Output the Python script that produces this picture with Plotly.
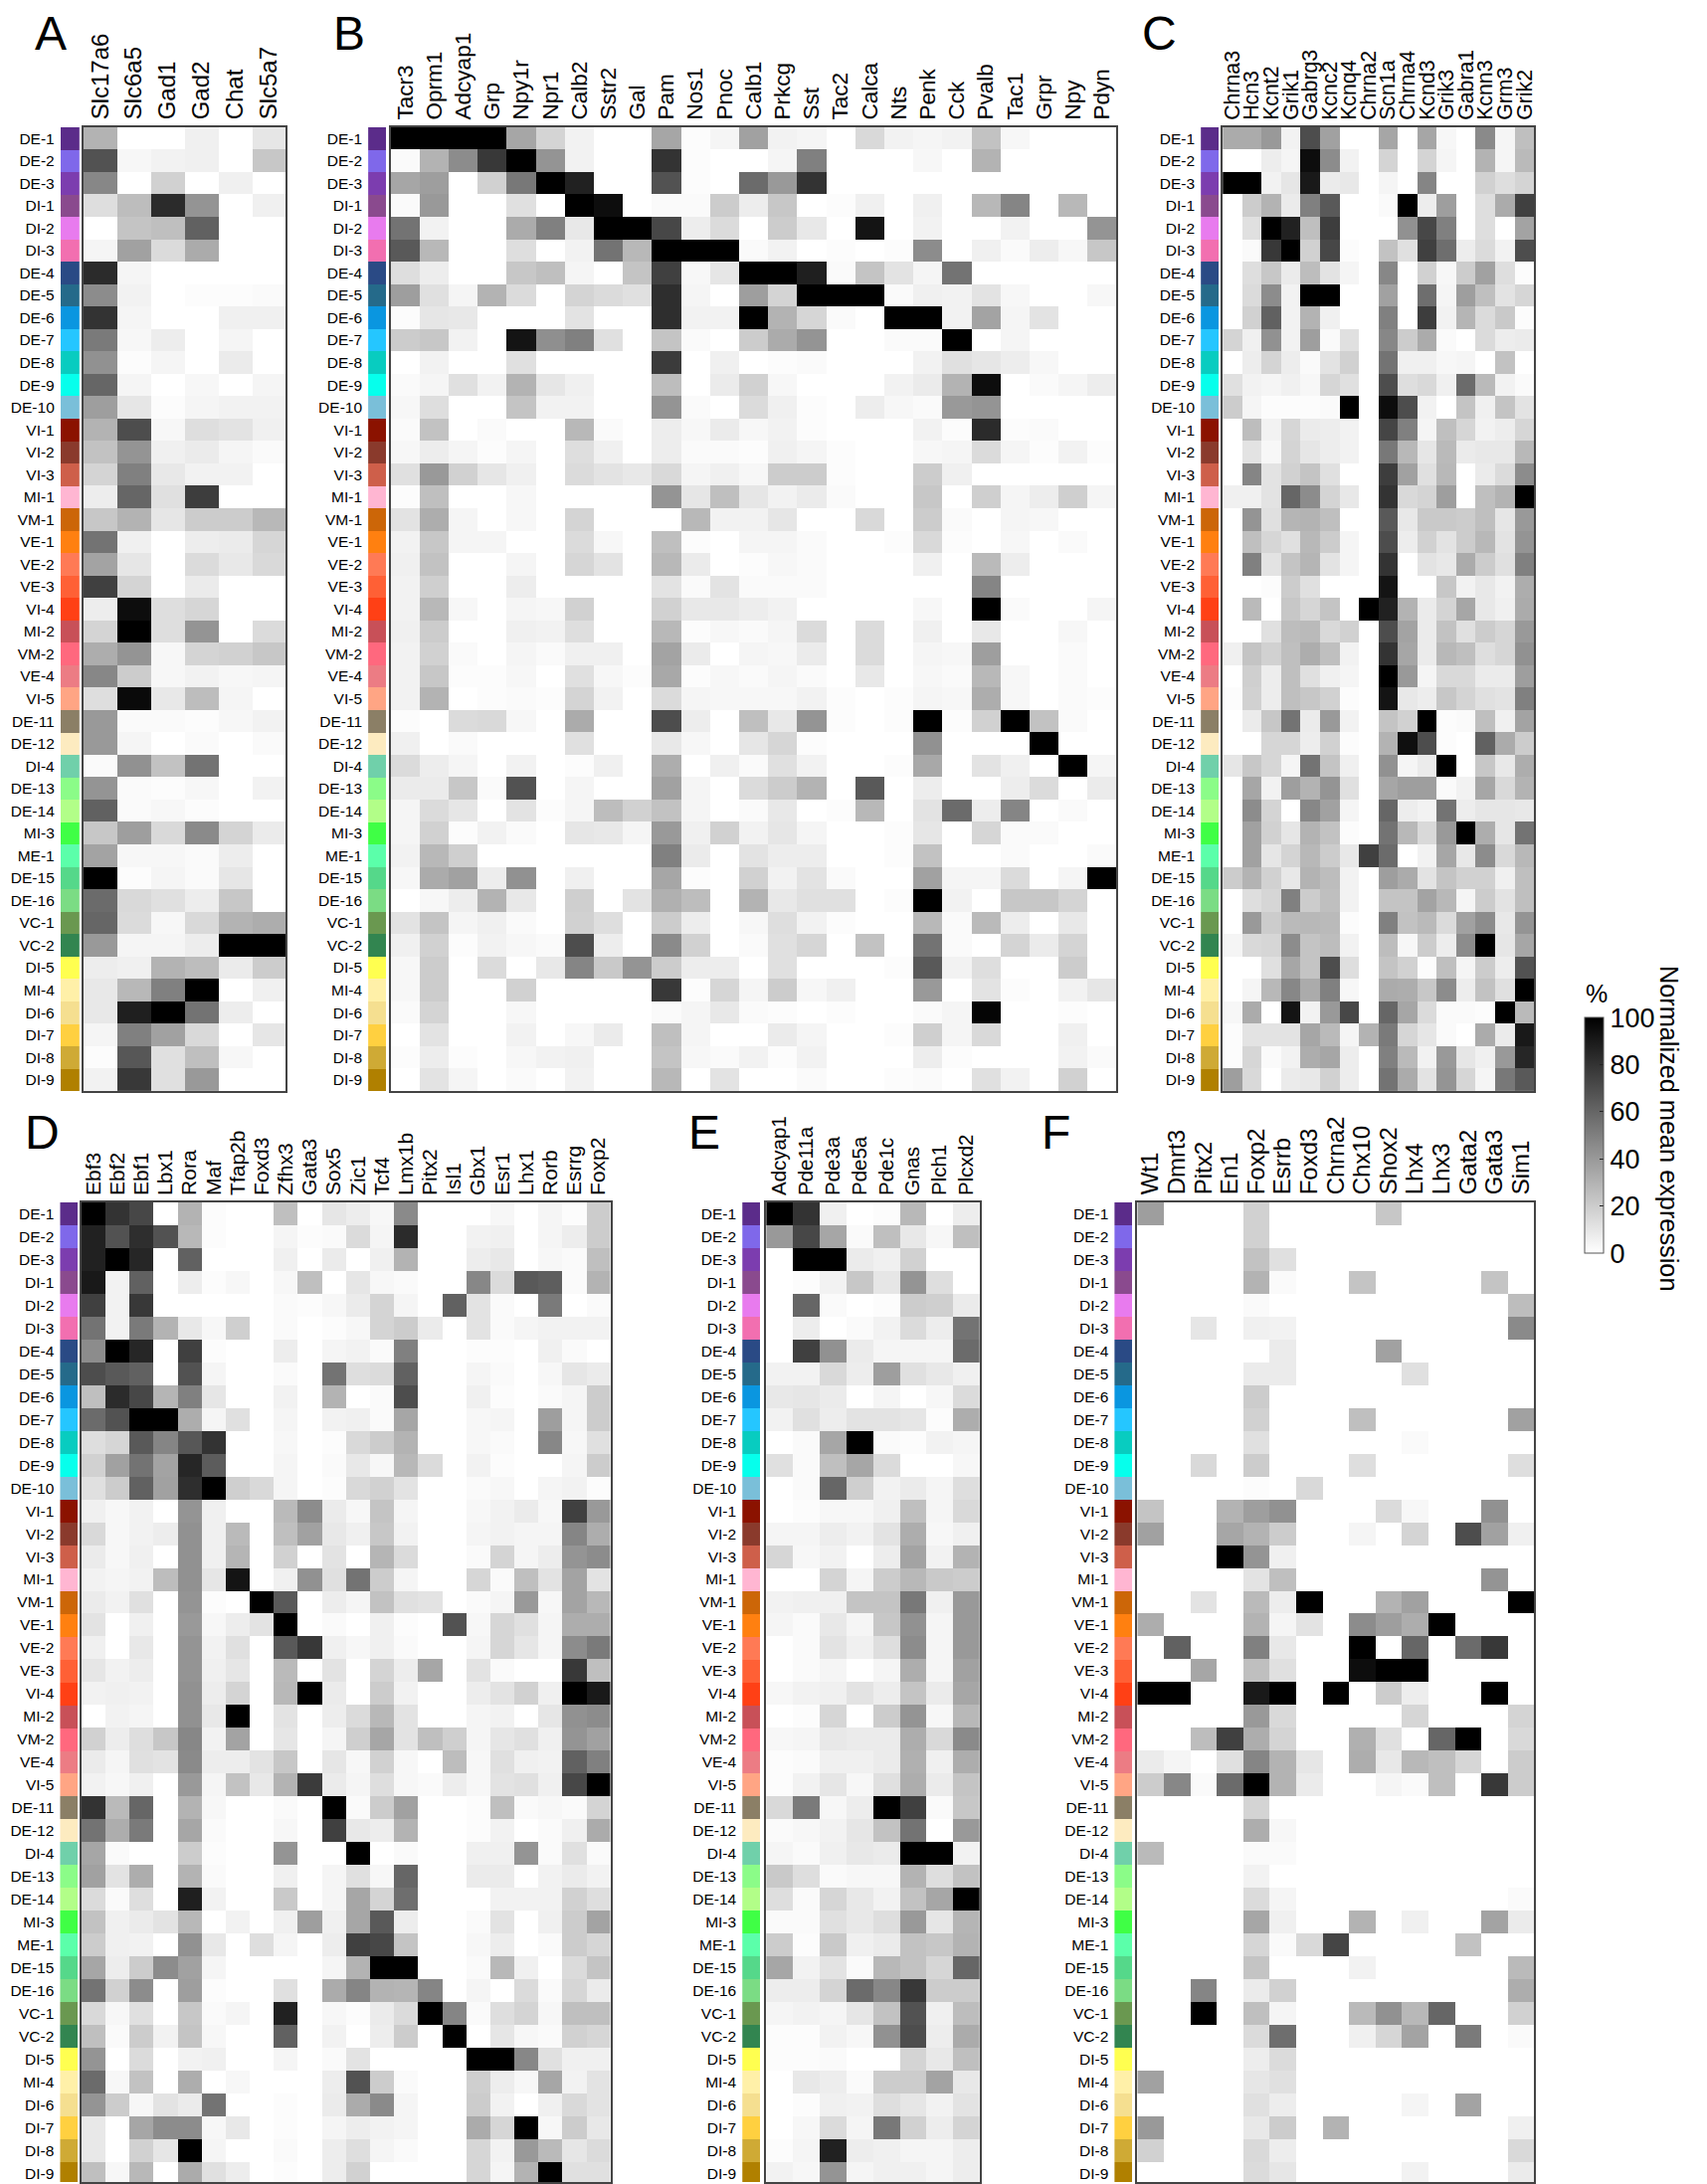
import plotly.graph_objects as go

W, H = 1716, 2196

clusters = ["DE-1","DE-2","DE-3","DI-1","DI-2","DI-3","DE-4","DE-5","DE-6","DE-7","DE-8","DE-9","DE-10",
            "VI-1","VI-2","VI-3","MI-1","VM-1","VE-1","VE-2","VE-3","VI-4","MI-2","VM-2","VE-4","VI-5",
            "DE-11","DE-12","DI-4","DE-13","DE-14","MI-3","ME-1","DE-15","DE-16","VC-1","VC-2",
            "DI-5","MI-4","DI-6","DI-7","DI-8","DI-9"]
cluster_colors = ["#5B2C8A","#7F68EA","#7C3DAF","#8A4A8E","#E87BEE","#F26FB0","#2A4A85","#256A8A","#0A96E0","#25C6FF","#08CCC0","#06FFEC","#7ABFD9",
                  "#8B1200","#8A3A2C","#CE5F4A","#FFB6D2","#CC6608","#FF8010","#FF7A55","#FF6035","#FF4015","#C85058","#FF687E","#EC7C84","#FFA584",
                  "#8B7F66","#FDEBC0","#70D0AA","#8BFC88","#B2FE88","#3FFF45","#5BFFAA","#55D88A","#7BDC84","#6A9850","#328550",
                  "#FFFF50","#FFF0A8","#F5DF90","#FFD040","#CFAA35","#B08000"]

genes_a = ["Slc17a6","Slc6a5","Gad1","Gad2","Chat","Slc5a7"]
values_a = [
[30,0,0,6,0,10],[68,3,5,6,0,22],[47,0,18,0,6,0],[13,26,83,42,0,6],[0,23,25,62,0,0],[4,37,14,33,0,0],
[83,4,0,0,0,0],[45,5,0,1,1,2],[80,4,0,0,6,6],[52,3,7,0,4,0],[43,1,4,0,8,0],[60,4,0,3,0,4],[38,10,1,4,5,5],
[30,70,3,13,11,6],[24,42,6,8,4,2],[17,50,9,5,5,0],[7,60,12,76,0,0],[22,30,10,20,20,28],[55,6,0,7,8,16],
[36,10,0,14,9,15],[75,17,0,8,0,0],[7,95,13,16,0,0],[17,100,13,42,0,14],[32,42,3,17,18,22],[47,20,3,5,3,4],
[13,96,9,26,4,0],[40,2,2,1,3,5],[40,4,0,2,0,2],[2,43,24,55,0,0],[42,2,1,3,0,5],[62,2,3,1,0,0],[22,38,15,46,17,8],
[36,3,3,2,7,0],[100,1,4,2,10,0],[58,15,12,7,22,0],[60,14,3,15,30,32],[40,4,4,7,100,100],[7,6,30,26,8,20],
[9,28,50,100,0,6],[9,88,100,55,7,0],[4,50,37,15,0,10],[1,66,12,25,3,0],[5,78,12,40,0,0]]

genes_b = ["Tacr3","Oprm1","Adcyap1","Grp","Npy1r","Npr1","Calb2","Sstr2","Gal","Pam","Nos1","Pnoc","Calb1","Prkcg","Sst","Tac2","Calca","Nts","Penk","Cck","Pvalb","Tac1","Grpr","Npy","Pdyn"]
values_b = [
[100,100,100,100,35,17,5,0,0,35,1,4,37,5,4,0,15,5,4,5,24,3,0,0,0],
[2,30,45,78,100,42,5,0,0,80,1,0,0,4,50,0,0,0,3,0,30,0,0,0,0],
[35,38,0,18,53,100,87,0,0,68,1,0,58,40,80,0,0,0,0,0,0,0,0,0,0],
[2,40,0,0,12,0,100,95,0,2,2,20,7,22,0,1,6,0,6,0,28,48,0,28,0],
[55,5,0,0,33,50,9,100,100,72,7,14,0,20,9,0,92,0,5,0,0,5,0,0,42],
[65,28,0,0,13,0,5,55,28,100,100,100,2,5,0,1,0,1,45,0,6,2,7,3,22],
[13,7,0,0,22,25,4,0,23,75,3,10,100,100,88,2,23,11,4,55,0,0,0,0,0],
[38,12,4,30,14,0,17,14,12,82,4,0,38,17,100,100,100,2,6,5,11,3,0,0,3],
[1,10,9,0,0,0,11,0,0,82,5,5,100,30,16,2,0,100,100,5,36,4,11,0,0],
[20,22,5,0,92,44,50,12,0,23,2,0,20,33,42,0,0,2,2,100,0,4,0,0,0],
[0,5,0,0,12,0,0,0,0,77,0,6,0,1,2,0,0,0,5,12,10,7,3,0,0],
[2,4,12,5,30,10,6,0,0,26,0,8,18,3,0,0,0,5,8,30,95,0,2,4,7],
[3,13,0,0,23,5,5,0,0,42,2,0,14,6,1,0,7,3,2,40,42,0,0,0,0],
[2,24,0,2,0,0,28,2,0,7,3,8,3,5,1,0,0,0,5,1,83,1,2,0,0],
[3,7,4,1,4,0,13,6,0,7,2,2,1,6,4,1,0,0,3,4,14,4,1,5,1],
[12,40,18,10,6,0,14,11,9,15,4,6,3,20,20,1,0,0,20,6,0,0,0,0,0],
[1,25,0,0,3,0,0,0,0,42,10,25,10,5,8,2,0,0,22,0,19,4,7,19,4],
[11,32,4,0,3,0,17,0,0,0,28,5,5,10,0,0,15,0,20,2,0,4,3,0,0],
[5,22,4,4,0,0,14,3,0,25,1,0,4,4,2,0,0,1,15,1,0,3,0,2,0],
[6,24,0,0,4,0,16,11,0,28,8,0,1,3,2,0,0,0,6,0,27,7,0,0,0],
[5,19,0,0,7,0,0,0,0,11,2,11,2,2,2,0,0,0,0,0,48,0,0,0,0],
[5,28,3,0,4,3,18,0,0,18,9,9,7,5,0,0,0,0,3,0,100,2,0,0,4],
[6,20,0,0,6,5,13,0,0,28,1,3,2,4,14,0,14,0,6,0,9,0,0,3,0],
[5,18,2,0,4,2,6,6,0,36,8,0,4,3,8,0,14,0,4,3,38,0,0,2,0],
[5,22,1,1,3,0,12,3,1,34,1,3,2,4,2,0,9,0,3,2,28,3,0,2,0],
[5,30,0,1,2,1,17,5,0,14,4,3,3,3,5,1,0,1,4,3,32,3,0,2,1],
[1,0,14,15,3,0,33,0,0,70,7,0,25,9,42,1,0,1,100,1,18,100,24,2,0],
[6,0,2,0,0,0,12,0,0,9,3,0,10,16,1,0,0,0,43,0,0,0,100,0,0],
[14,7,4,0,5,0,1,6,0,32,0,6,2,12,5,0,0,1,34,0,11,6,0,100,4],
[8,8,22,2,68,0,4,0,0,37,4,0,14,20,30,0,65,0,7,0,0,7,14,0,8],
[4,14,10,0,11,1,4,26,18,24,4,0,2,9,0,1,28,0,11,58,7,48,0,2,0],
[4,18,1,5,2,0,10,9,4,40,6,18,5,10,4,0,0,1,10,0,16,2,2,0,0],
[5,28,19,0,0,0,0,0,0,50,8,0,11,7,7,0,0,1,24,0,0,2,0,0,2],
[3,33,37,7,43,0,6,0,0,35,1,0,18,5,11,2,0,0,37,4,4,14,0,4,100],
[0,3,7,30,9,0,19,0,11,31,26,0,30,9,12,12,0,1,100,5,0,22,22,17,0],
[11,23,4,6,2,0,18,13,0,20,7,0,3,13,5,1,0,0,28,2,27,7,0,9,0],
[6,18,1,5,3,2,70,7,0,46,18,0,2,12,16,0,24,0,55,2,0,17,8,17,0],
[3,20,0,14,0,9,48,21,42,20,7,7,0,12,0,0,0,1,65,5,13,0,0,20,0],
[3,20,0,0,18,0,0,0,0,78,1,16,4,20,3,6,0,0,40,0,11,1,0,5,10],
[2,17,0,0,3,0,0,0,0,2,4,9,2,1,0,1,0,0,2,4,98,0,0,1,0],
[0,11,0,0,5,0,3,8,0,25,4,0,0,8,4,0,0,1,19,4,15,0,0,6,0],
[1,7,1,0,3,5,6,0,0,23,3,2,5,1,5,0,0,0,7,1,0,0,0,5,2],
[0,11,4,0,2,0,5,0,0,28,0,11,0,0,2,0,0,1,2,0,12,5,0,18,0]]

genes_c = ["Chrna3","Hcn3","Kcnt2","Grik1","Gabrg3","Kcnc2","Kcnq4","Chrna2","Scn1a","Chrna4","Kcnd3","Grik3","Gabra1","Kcnn3","Grm3","Grik2"]
values_c = [
[33,33,40,5,70,37,0,0,35,0,35,3,0,46,4,25],[0,0,7,4,95,45,5,0,17,0,17,4,0,30,4,27],
[100,100,5,10,90,8,9,0,4,0,48,0,0,18,13,17],[0,20,30,8,50,65,0,0,2,100,7,38,0,13,33,75],
[0,12,100,87,25,76,0,0,0,43,72,50,0,13,0,36],[0,2,78,100,18,72,1,0,24,12,75,57,7,14,5,70],
[0,13,22,8,26,11,4,0,47,0,18,3,20,37,13,1],[0,14,45,5,100,100,0,0,37,0,57,4,38,25,11,16],
[0,18,62,5,30,6,0,0,50,0,76,5,29,14,21,1],[17,6,43,5,38,2,12,0,47,20,33,2,0,14,7,8],
[0,7,17,7,2,11,18,0,55,6,6,3,4,0,24,0],[12,5,4,6,3,16,12,0,70,13,15,6,58,27,5,2],
[20,4,1,1,1,2,100,0,95,70,5,0,23,6,23,11],[0,26,5,16,8,7,5,0,73,50,4,25,16,5,7,16],
[0,11,3,17,10,7,5,0,53,28,10,27,8,9,9,28],[0,48,11,18,23,12,0,0,76,37,12,28,0,8,14,45],
[6,6,11,60,45,17,9,0,80,15,17,38,0,25,30,100],[0,42,12,29,30,25,0,0,65,9,21,21,20,25,10,40],
[0,25,16,12,28,20,4,0,70,7,18,11,20,28,11,42],[0,50,11,23,29,11,4,0,80,0,11,9,33,20,12,50],
[0,0,1,20,12,0,0,0,92,0,0,22,5,9,5,32],[0,27,0,22,16,23,0,100,87,30,8,17,35,9,6,33],
[0,0,12,26,27,15,18,0,70,36,8,24,12,20,16,40],[6,23,18,25,32,25,5,0,80,35,8,28,25,13,16,43],
[0,19,7,25,12,6,4,0,100,40,4,15,15,8,8,38],[1,18,7,25,22,18,1,0,92,9,7,22,17,12,11,50],
[0,8,22,55,8,40,5,0,23,18,100,1,2,25,6,36],[0,0,16,16,7,18,1,0,30,94,70,1,0,62,33,20],
[10,22,16,4,55,23,6,0,43,4,8,100,0,22,9,32],[0,35,5,38,30,42,12,0,35,38,38,2,5,35,15,30],
[0,45,17,0,47,37,4,0,60,7,5,55,7,10,10,9],[0,37,18,10,30,24,1,0,55,28,15,40,100,32,10,55],
[0,37,10,17,28,20,9,75,58,0,5,35,9,45,15,28],[20,30,18,9,30,26,5,0,38,33,11,23,18,18,6,25],
[0,13,16,50,20,25,5,0,23,23,36,28,4,20,11,25],[0,40,20,27,28,27,1,0,50,24,27,14,37,45,9,42],
[4,15,16,45,23,26,5,0,26,3,20,7,45,100,10,35],[0,0,12,35,23,70,13,0,23,18,1,25,4,20,7,68],
[0,4,28,47,33,50,3,0,33,32,22,45,7,24,12,100],[3,33,0,92,5,40,72,0,60,35,14,2,2,1,100,27],
[1,11,11,11,35,27,4,30,52,16,10,2,0,33,8,90],[1,16,2,5,32,35,7,0,50,27,5,40,10,6,40,85],
[38,15,0,8,9,18,7,0,55,33,11,42,16,4,53,65]]

genes_d = ["Ebf3","Ebf2","Ebf1","Lbx1","Rora","Maf","Tfap2b","Foxd3","Zfhx3","Gata3","Sox5","Zic1","Tcf4","Lmx1b","Pitx2","Isl1","Gbx1","Esr1","Lhx1","Rorb","Esrrg","Foxp2"]
values_d = [
[100,80,72,0,30,1,0,0,25,0,10,7,3,46,0,0,0,3,0,4,1,20],
[87,68,82,68,28,1,0,0,4,1,2,14,4,83,0,0,5,6,0,4,7,20],
[87,100,85,0,62,0,0,0,6,0,8,0,6,30,0,0,7,9,0,3,2,25],
[90,5,62,0,7,1,3,0,3,25,0,10,3,2,0,0,47,14,65,63,2,30],
[75,5,78,0,0,0,0,0,2,1,3,8,17,4,0,62,11,2,0,52,0,2],
[55,5,52,30,9,3,19,0,2,0,1,3,17,20,8,0,11,2,4,5,5,5],
[45,100,85,0,75,1,0,0,7,0,4,5,2,50,0,0,1,1,0,6,2,0],
[70,65,62,0,68,4,0,0,2,0,55,13,14,62,0,0,4,2,0,3,10,8],
[25,83,72,29,50,10,0,0,5,0,30,0,2,70,0,0,6,1,0,2,4,20],
[58,68,100,100,32,4,12,0,4,0,5,6,2,35,0,0,3,4,0,38,4,20],
[13,16,65,48,66,80,0,0,3,0,1,15,20,30,0,0,3,2,0,47,3,12],
[18,37,55,36,85,64,0,0,4,0,2,9,3,28,14,0,5,1,0,0,4,20],
[12,20,62,37,82,100,19,15,4,0,1,15,18,11,0,0,2,3,0,4,5,1],
[6,3,5,0,42,6,0,0,27,45,8,3,23,4,0,0,3,5,8,3,75,40],
[15,3,5,7,43,6,27,0,25,37,9,6,22,5,0,0,4,5,4,4,48,32],
[8,3,6,0,43,6,29,0,18,0,11,0,29,14,0,0,2,17,4,7,42,45],
[5,4,5,26,43,10,92,0,6,43,12,55,20,4,0,0,16,2,25,11,36,11],
[8,5,12,0,42,1,0,100,65,0,7,4,24,12,11,0,2,4,40,3,36,28],
[11,0,6,0,40,3,7,11,100,0,2,0,6,1,0,68,3,16,12,4,32,32],
[6,0,9,0,42,5,12,0,65,78,6,3,6,2,0,0,4,16,10,4,45,52],
[10,5,7,0,42,6,10,0,27,0,11,0,17,7,35,0,11,2,0,0,78,25],
[5,6,5,0,43,7,17,0,28,100,8,0,20,5,0,0,7,11,18,6,100,90],
[0,5,4,0,43,9,100,0,11,0,7,14,28,11,0,0,4,5,0,10,43,45],
[18,7,13,22,47,5,36,0,10,0,4,19,35,11,25,19,4,10,12,6,42,37],
[8,4,12,11,46,7,7,11,22,0,10,3,18,3,0,26,3,12,6,5,62,50],
[5,3,6,0,40,4,24,9,30,77,8,4,13,3,2,7,3,11,12,6,72,100],
[80,27,60,0,30,3,0,0,2,0,100,2,20,37,0,0,1,25,2,3,2,17],
[55,32,52,0,35,2,0,0,3,0,75,9,7,30,0,0,1,5,0,2,6,33],
[35,2,0,0,20,1,0,0,42,0,0,100,0,2,0,0,6,6,42,2,12,2],
[37,11,32,0,30,2,0,0,6,0,4,12,3,60,0,0,8,8,0,5,8,5],
[14,2,13,0,88,5,0,0,21,0,4,35,17,57,0,0,0,5,5,5,18,13],
[24,6,8,11,28,0,5,0,6,38,6,35,65,7,0,0,2,11,0,6,20,36],
[20,6,5,0,43,9,0,13,4,0,7,75,72,23,0,0,3,7,0,2,20,16],
[35,7,20,45,37,4,0,0,0,0,4,30,100,100,0,0,2,28,6,0,14,23],
[55,18,45,0,38,1,0,0,12,0,33,48,30,29,48,0,4,0,14,2,16,8],
[15,3,12,0,22,2,4,0,87,0,3,1,8,14,100,48,2,13,17,3,25,25],
[25,2,20,5,23,3,0,0,62,0,5,0,7,20,0,100,0,10,3,2,18,16],
[42,0,14,0,5,6,0,0,4,0,2,11,0,0,0,0,100,100,47,12,6,6],
[58,3,24,0,32,0,3,0,0,0,7,68,20,2,0,0,19,7,3,35,5,11],
[42,20,3,11,8,55,0,0,1,0,8,33,46,4,0,0,20,5,0,6,15,11],
[9,0,35,45,45,3,9,0,1,0,4,7,5,4,0,0,33,16,100,3,20,9],
[9,0,18,10,100,4,0,0,2,0,7,13,4,2,0,0,16,5,40,27,10,14],
[25,3,28,0,33,12,7,0,1,0,7,18,0,0,0,0,16,4,30,100,12,12]]

genes_e = ["Adcyap1","Pde11a","Pde3a","Pde5a","Pde1c","Gnas","Plch1","Plcxd2"]
values_e = [
[100,80,6,0,1,28,0,7],[40,72,35,2,25,9,3,25],[0,100,100,8,6,18,0,0],[0,1,5,22,10,42,13,0],[0,60,2,0,1,20,19,8],
[0,7,0,2,5,14,7,55],[0,75,43,8,4,4,4,58],[5,5,15,7,38,12,9,6],[9,10,8,0,4,0,3,14],[5,12,7,11,11,10,1,32],
[0,2,35,100,2,1,5,4],[12,2,25,35,14,0,0,3],[0,2,60,19,5,8,4,13],[0,1,3,3,6,25,4,15],[4,4,7,5,11,32,3,6],
[16,3,5,0,7,36,5,30],[0,0,17,4,20,28,21,20],[5,6,6,23,23,53,6,40],[4,2,9,4,22,43,4,40],[0,2,11,6,13,45,4,40],
[0,2,4,0,4,32,4,37],[3,5,6,11,7,23,8,35],[0,1,16,0,20,42,3,28],[3,4,9,8,8,32,15,46],[1,2,6,6,8,31,6,32],
[1,5,10,3,12,32,8,23],[15,52,3,7,100,75,2,22],[2,3,5,10,24,55,0,40],[4,2,6,9,8,100,100,5],[21,13,2,3,3,30,13,24],
[13,2,16,9,5,24,35,100],[2,2,12,9,13,40,10,29],[20,1,21,6,8,24,22,30],[35,5,11,2,28,24,16,60],[7,7,17,58,47,78,20,20],
[4,5,4,10,24,68,6,26],[1,1,5,3,43,70,7,33],[1,1,2,0,0,17,9,25],[0,9,7,2,20,20,36,9],[0,1,6,5,13,10,5,11],
[0,3,14,4,53,18,7,17],[1,4,87,7,6,4,4,7],[5,3,42,4,6,6,4,7]]

genes_f = ["Wt1","Dmrt3","Pitx2","En1","Foxp2","Esrrb","Foxd3","Chrna2","Chx10","Shox2","Lhx4","Lhx3","Gata2","Gata3","Sim1"]
values_f = [
[38,0,0,0,18,0,0,0,0,22,0,0,0,0,0],
[0,0,0,0,18,0,0,0,0,0,0,0,0,0,0],
[0,0,0,0,24,12,0,0,0,0,0,0,0,0,0],
[0,0,0,0,30,2,0,0,23,0,0,0,0,23,0],
[0,0,0,0,2,0,0,0,0,0,0,0,0,0,26],
[0,0,10,0,6,5,0,0,0,0,0,0,0,0,46],
[0,0,0,0,0,8,0,0,0,37,0,0,0,0,0],
[0,0,0,0,8,8,0,0,0,0,12,0,0,0,0],
[0,0,0,0,20,0,0,0,0,0,0,0,0,0,0],
[0,0,0,0,18,0,0,0,25,0,0,0,0,0,37],
[0,0,0,0,12,0,0,0,0,0,2,0,0,0,0],
[0,0,15,0,20,0,0,0,13,0,0,0,0,0,13],
[0,0,0,0,1,0,15,0,0,0,0,0,0,0,0],
[23,0,0,30,38,43,0,0,0,14,3,0,0,43,0],
[37,0,0,35,30,20,0,0,4,0,17,0,70,37,6],
[0,0,0,100,42,6,0,0,0,0,0,0,0,0,0],
[0,0,0,0,11,25,0,0,0,0,0,0,0,42,0],
[0,0,11,0,27,7,100,0,0,30,37,0,0,0,100],
[32,0,0,0,30,4,11,0,45,38,32,100,0,0,0],
[0,62,0,0,50,9,0,0,100,0,60,0,58,78,0],
[0,0,35,0,25,12,0,0,95,100,100,0,0,0,0],
[100,100,0,0,90,100,0,100,0,20,7,0,0,100,0],
[0,0,0,0,40,15,0,0,0,0,16,0,0,0,17],
[0,0,26,75,32,17,0,0,31,12,0,60,100,0,15],
[8,4,0,12,48,30,10,0,32,9,28,25,16,0,20],
[20,47,2,58,100,30,8,0,0,4,2,25,0,78,20],
[0,0,0,0,17,0,0,0,0,0,0,0,0,0,0],
[0,0,0,0,32,3,0,0,0,0,0,0,0,0,0],
[27,0,0,0,2,2,0,0,0,0,0,0,0,0,0],
[0,0,0,0,5,0,0,0,0,0,0,0,0,0,0],
[0,0,0,0,14,4,0,0,0,0,0,0,0,0,2],
[0,0,0,0,35,6,0,0,30,0,6,0,0,36,8],
[0,0,0,0,16,2,15,73,0,0,0,0,24,0,0],
[0,0,0,0,23,0,0,0,5,0,0,0,0,0,27],
[0,0,48,0,8,18,0,0,0,0,0,0,0,0,32],
[0,0,100,0,25,4,0,0,27,43,28,60,0,0,18],
[0,0,0,0,14,57,0,0,6,16,36,0,52,0,2],
[0,0,0,0,7,14,0,0,0,0,0,0,0,0,0],
[37,0,0,0,10,12,0,0,0,0,0,0,0,0,0],
[0,0,0,0,12,7,0,0,0,0,4,0,36,0,0],
[40,0,0,0,9,20,0,30,0,0,0,0,0,0,6],
[18,0,0,0,15,7,0,0,0,0,0,0,0,0,15],
[0,0,0,0,14,10,0,0,0,0,5,0,0,0,8]]

colorbar_ticks = [0, 20, 40, 60, 80, 100]

FONT = "Liberation Sans, Arial, Helvetica, sans-serif"
GREYS = [[0, "#ffffff"], [1, "#000000"]]
TOP = (128, 1098)
BOT = (1210, 2196)
ROW_BOT = 23.0

panels = [
    ("A", genes_a, values_a, (59, 78), (82, 286), TOP, 24, (49, 34)),
    ("B", genes_b, values_b, (369, 387), (391.6, 1123), TOP, 22.6, (350, 34)),
    ("C", genes_c, values_c, (1208, 1226), (1230, 1544), TOP, 21.3, (1166, 34)),
    ("D", genes_d, values_d, (58.6, 76.7), (80, 613), BOT, 21, (41, 1140)),
    ("E", genes_e, values_e, (746, 764), (770, 985), BOT, 20.5, (708, 1140)),
    ("F", genes_f, values_f, (1121, 1139), (1144, 1544), BOT, 24, (1062, 1140)),
]

fig = go.Figure()
layout = {}
annotations = []
n = 0
for name, genes, values, sx, hx, ys, gfont, lab in panels:
    y_dom = [1 - ys[1] / H, 1 - ys[0] / H]
    y_end = 42.5 if ys is TOP else (ys[1] - ys[0]) / ROW_BOT - 0.5
    y_range = [y_end, -0.5]

    # colour strip with the cluster names
    n += 1
    s = n
    fig.add_trace(go.Bar(x=[1] * len(clusters), y=clusters, orientation="h", width=1,
                         marker=dict(color=cluster_colors, line=dict(width=0)),
                         xaxis=f"x{s}", yaxis=f"y{s}", hoverinfo="skip", showlegend=False))
    layout[f"xaxis{s}"] = dict(domain=[sx[0] / W, sx[1] / W], range=[0, 1], anchor=f"y{s}",
                               showticklabels=False, showgrid=False, zeroline=False, showline=False, ticks="")
    layout[f"yaxis{s}"] = dict(domain=y_dom, range=y_range, anchor=f"x{s}", type="category",
                               categoryorder="array", categoryarray=clusters,
                               tickmode="array", tickvals=clusters, ticktext=clusters,
                               tickfont=dict(family=FONT, size=15.5, color="#000"),
                               ticks="outside", ticklen=2, tickcolor="rgba(0,0,0,0)",
                               showgrid=False, zeroline=False, showline=False)

    # heat map
    n += 1
    h = n
    show = name == "C"
    fig.add_trace(go.Heatmap(z=values, x=genes, y=clusters, zmin=0, zmax=100, colorscale=GREYS,
                             xaxis=f"x{h}", yaxis=f"y{h}", hoverinfo="skip", showscale=show,
                             colorbar=dict(x=1595 / W, xanchor="left", y=1 - 1024 / H, yanchor="top",
                                           thickness=19, thicknessmode="pixels",
                                           len=237, lenmode="pixels", outlinewidth=1, outlinecolor="#555",
                                           tickmode="array", tickvals=colorbar_ticks,
                                           ticks="inside", ticklen=4, tickcolor="#222", tickwidth=1,
                                           tickfont=dict(family=FONT, size=27, color="#000"),
                                           xpad=0, ypad=0) if show else None))
    layout[f"xaxis{h}"] = dict(domain=[hx[0] / W, hx[1] / W], anchor=f"y{h}", side="top", type="category",
                               categoryorder="array", categoryarray=genes,
                               range=[-0.5, len(genes) - 0.5],
                               tickmode="array", tickvals=genes, ticktext=genes, tickangle=-90,
                               tickfont=dict(family=FONT, size=gfont, color="#000"),
                               ticks="outside", ticklen=1, tickcolor="rgba(0,0,0,0)",
                               showgrid=False, zeroline=False, showline=True, mirror=True,
                               linecolor="#444", linewidth=1.5)
    layout[f"yaxis{h}"] = dict(domain=y_dom, range=y_range, anchor=f"x{h}", type="category",
                               categoryorder="array", categoryarray=clusters,
                               showticklabels=False, ticks="", showgrid=False, zeroline=False,
                               showline=True, mirror=True, linecolor="#444", linewidth=1.5)

    annotations.append(dict(text=name, x=lab[0] / W, y=1 - lab[1] / H, xref="paper", yref="paper",
                            xanchor="center", yanchor="middle", showarrow=False,
                            font=dict(family=FONT, size=48, color="#000")))

annotations.append(dict(text="%", x=1607 / W, y=1 - 1000 / H, xref="paper", yref="paper",
                        xanchor="center", yanchor="middle", showarrow=False,
                        font=dict(family=FONT, size=25, color="#000")))
annotations.append(dict(text="Normalized mean expression", x=1680 / W, y=1 - 1136 / H, xref="paper", yref="paper",
                        xanchor="center", yanchor="middle", showarrow=False, textangle=90,
                        font=dict(family=FONT, size=25.3, color="#000")))

fig.update_layout(width=W, height=H, margin=dict(l=0, r=0, t=0, b=0), autosize=False,
                  paper_bgcolor="white", plot_bgcolor="white", bargap=0, showlegend=False,
                  annotations=annotations, **layout)

fig.write_html("out.html", config={"displayModeBar": False},
               post_script="document.body.style.margin='0';document.documentElement.style.overflow='hidden';")
